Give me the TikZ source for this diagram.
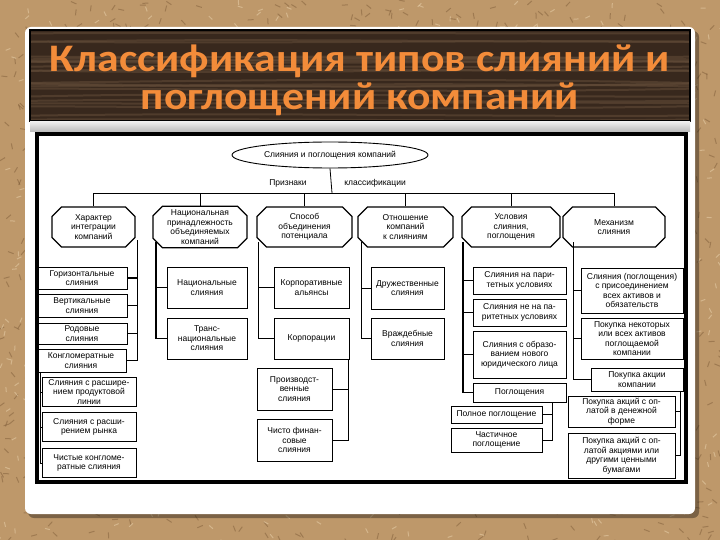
\documentclass[tikz,border=0pt]{standalone}
\usepackage{fontspec}
\setmainfont{Liberation Sans}
\newfontfamily\titlefont[FakeStretch=1.12]{Carlito}
\usetikzlibrary{shapes.geometric,shapes.misc}

\definecolor{sand}{RGB}{190,152,106}
\definecolor{sanddark}{RGB}{120,86,52}
\definecolor{sandlight}{RGB}{232,208,170}
\definecolor{wood}{RGB}{56,40,29}
\definecolor{woodlight}{RGB}{96,74,55}
\definecolor{titleorange}{RGB}{243,140,58}

\tikzset{
  box/.style 2 args={draw, rectangle, line width=0.9pt, align=center, inner sep=1pt,
    minimum width=#1, minimum height=#2, font=\fontsize{8.5}{9.5}\selectfont},
  octa/.style={draw, chamfered rectangle, chamfered rectangle xsep=6pt, line width=1.3pt,
    minimum width=#1, minimum height=40pt, align=center, inner sep=0pt,
    font=\fontsize{8.5}{9.5}\selectfont},
  bus/.style={line width=0.8pt},
  busthick/.style={line width=1.8pt}
}

\begin{document}
\begin{tikzpicture}[x=1pt,y=-1pt]
        \useasboundingbox (0,0) rectangle (720,540);
        % ==== BACKGROUND ====
        \fill[sand] (0,0) rectangle (720,540);
        \pgfmathsetseed{11}
        \foreach \i in {1,...,1100} {
            \pgfmathsetmacro\xx{rnd*720}
            \pgfmathsetmacro\yy{rnd*540}
            \pgfmathsetmacro\aa{rnd*180}
            \draw[sanddark, opacity=0.45, line width=1pt] (\xx,\yy) -- ++(\aa:6);
        }
        \foreach \i in {1,...,800} {
            \pgfmathsetmacro\xx{rnd*720}
            \pgfmathsetmacro\yy{rnd*540}
            \pgfmathsetmacro\aa{rnd*180}
            \draw[sandlight, opacity=0.55, line width=1pt] (\xx,\yy) -- ++(\aa:5);
        }
        % ==== PANEL ====
        \fill[black, opacity=0.35, rounded corners=6pt] (28,31) rectangle (699,518);
        \fill[white, rounded corners=6pt] (25,27) rectangle (695,514);
        % ==== TITLE BAR ====
        \fill[wood] (30,30) rectangle (690,121);
        \begin{scope}
            \clip (30,30) rectangle (690,121);
            \foreach \i in {1,...,22} {
                \pgfmathsetmacro\yy{30+rnd*91}
                \pgfmathsetmacro\ya{\yy+rnd*10-5}
                \pgfmathsetmacro\yb{\yy+rnd*10-5}
                \draw[woodlight, opacity=0.6, line width=2pt] (30,\yy) .. controls (250,\ya) and (470,\yb) .. (690,\yy);
            }
        \end{scope}
        \draw[black, line width=1.5pt] (30,30) rectangle (690,121);
        \shade[top color=gray!15, bottom color=gray!55] (30,122) rectangle (690,132);
        \node[font=\titlefont\bfseries\fontsize{39}{38}\selectfont, text=titleorange, align=center]
            (title) at (360,80) {Классификация типов слияний и\\поглощений компаний};

        % ==== ROOT ====
        \node[draw, ellipse, line width=0.9pt, minimum width=195pt, minimum height=26pt,
            font=\fontsize{8.5}{9.5}\selectfont] (root) at (330,155) {Слияния и поглощения компаний};
        \node[font=\fontsize{8.5}{9.5}\selectfont] (priz) at (288,183) {Признаки};
        \node[font=\fontsize{8.5}{9.5}\selectfont] (klass) at (375,183) {классификации};
        \coordinate (split) at (332,193);

        % ==== CLASSIFICATION FEATURES ====
        \node[octa=83pt] (o1) at (93.5,227) {Характер\\интеграции\\компаний};
        \node[octa=94pt] (o2) at (200,227) {Национальная\\принадлежность\\объединяемых\\компаний};
        \node[octa=95pt] (o3) at (304.5,227) {Способ\\объединения\\потенциала};
        \node[octa=95pt] (o4) at (405.5,227) {Отношение\\компаний\\к слияниям};
        \node[octa=98pt] (o5) at (511,227) {Условия\\слияния,\\поглощения};
        \node[octa=102pt] (o6) at (614,227) {Механизм\\слияния};

        \draw[bus] (root.south) -- (split);
        \draw[bus] (o1.north |- split) -- (o6.north |- split);
        \draw[busthick] (o1.north) -- (o1.north |- split);
        \foreach \n in {o2,o3,o4,o5,o6}
            \draw[bus] (\n.north) -- (\n.north |- split);

        % ==== INTEGRATION ====
        \node[box={90pt}{22pt}] (gor) at (82,278) {Горизонтальные\\слияния};
        \node[box={90pt}{23pt}] (vert) at (82,305.5) {Вертикальные\\слияния};
        \node[box={90pt}{21pt}] (rod) at (82,333.5) {Родовые\\слияния};
        \node[box={90pt}{23pt}] (kong) at (81,360.5) {Конгломератные\\слияния};
        \node[box={94pt}{29pt}] (prod) at (89,392) {Слияния с расшире-\\нием продуктовой\\линии};
        \node[box={94pt}{29pt}] (rynok) at (89,427) {Слияния с расши-\\рением рынка};
        \node[box={94pt}{29pt}] (chist) at (89,463) {Чистые конгломе-\\ратные слияния};

        \coordinate (bus1) at (137.5,240);
        \draw[busthick] (bus1) |- (kong.east);
        \foreach \n in {gor,vert,rod}
            \draw[busthick] (\n.east) -- (\n.east -| bus1);
        \coordinate (bus1b) at (40.5,372);
        \draw[bus] (bus1b) |- (chist.west);
        \foreach \n in {prod,rynok}
            \draw[bus] (\n.west) -- (\n.west -| bus1b);

        % ==== NATIONALITY ====
        \node[box={80pt}{41pt}] (nac) at (207,287.5) {Национальные\\слияния};
        \node[box={80pt}{41pt}] (trans) at (207,338.5) {Транс-\\национальные\\слияния};
        \coordinate (bus2) at (156,242);
        \draw[busthick] (bus2) |- (trans.west);
        \draw[bus] (nac.west) -- (nac.west -| bus2);

        % ==== POTENTIAL ====
        \node[box={75pt}{41pt}] (alians) at (311.5,287.5) {Корпоративные\\альянсы};
        \node[box={75pt}{41pt}] (korp) at (311.5,338.5) {Корпорации};
        \node[box={75pt}{42pt}] (proizv) at (294.5,389) {Производст-\\венные\\слияния};
        \node[box={75pt}{42pt}] (finans) at (294.5,440) {Чисто финан-\\совые\\слияния};
        \coordinate (bus3) at (258,242);
        \draw[bus] (bus3) |- (korp.west);
        \draw[bus] (alians.west) -- (alians.west -| bus3);
        \coordinate (bus3b) at (348,359);
        \draw[bus] (bus3b) |- (finans.east);
        \draw[bus] (proizv.east) -- (proizv.east -| bus3b);

        % ==== RELATION ====
        \node[box={73pt}{42pt}] (druzh) at (407.5,288) {Дружественные\\слияния};
        \node[box={73pt}{41pt}] (vrazh) at (407.5,338.5) {Враждебные\\слияния};
        \coordinate (bus4) at (361,242);
        \draw[bus] (bus4) |- (vrazh.west);
        \draw[bus] (druzh.west) -- (druzh.west -| bus4);

        % ==== CONDITIONS ====
        \node[box={93pt}{27pt}] (parit) at (519.5,280.5) {Слияния на пари-\\тетных условиях};
        \node[box={93pt}{27pt}] (neparit) at (519.5,312.5) {Слияния не на па-\\ритетных условиях};
        \node[box={93pt}{47pt}] (yurlic) at (519.5,354.5) {Слияния с образо-\\ванием нового\\юридического лица};
        \node[box={93pt}{19pt}] (pogl) at (519.5,392.5) {Поглощения};
        \node[box={91pt}{17pt}] (polnoe) at (496.5,414.5) {Полное поглощение};
        \node[box={91pt}{24pt}] (chast) at (496.5,440) {Частичное\\поглощение};
        \coordinate (bus5) at (463,242);
        \draw[busthick] (bus5) |- (pogl.west);
        \foreach \n in {parit,neparit,yurlic}
            \draw[bus] (\n.west) -- (\n.west -| bus5);
        \coordinate (bus5b) at (552,402);
        \draw[bus] (bus5b) |- (chast.east);
        \draw[bus] (polnoe.east) -- (polnoe.east -| bus5b);

        % ==== MECHANISM ====
        \node[box={102pt}{45pt}] (prisoed) at (632,290.5) {Слияния (поглощения)\\с присоединением\\всех активов и\\обязательств};
        \node[box={102pt}{41pt}] (aktiv) at (632,338.5) {Покупка некоторых\\или всех активов\\поглощаемой\\компании};
        \node[box={92pt}{23pt}] (akcii) at (637,379.5) {Покупка акции\\компании};
        \node[box={107pt}{31pt}] (dengi) at (621.5,411.5) {Покупка акций с оп-\\латой в денежной\\форме};
        \node[box={107pt}{45pt}] (cennye) at (621.5,455.5) {Покупка акций с оп-\\латой акциями или\\другими ценными\\бумагами};
        \coordinate (bus6) at (573,242);
        \draw[bus] (bus6) |- (akcii.west);
        \foreach \n in {prisoed,aktiv}
            \draw[bus] (\n.west) -- (\n.west -| bus6);
        \coordinate (bus6b) at (680.5,391);
        \draw[bus] (bus6b) |- (cennye.east);
        \draw[bus] (dengi.east) -- (dengi.east -| bus6b);

        % ==== FRAME ====
        \draw[line width=4pt] (37,134) rectangle (686,482);
     \end{tikzpicture}
\end{document}
